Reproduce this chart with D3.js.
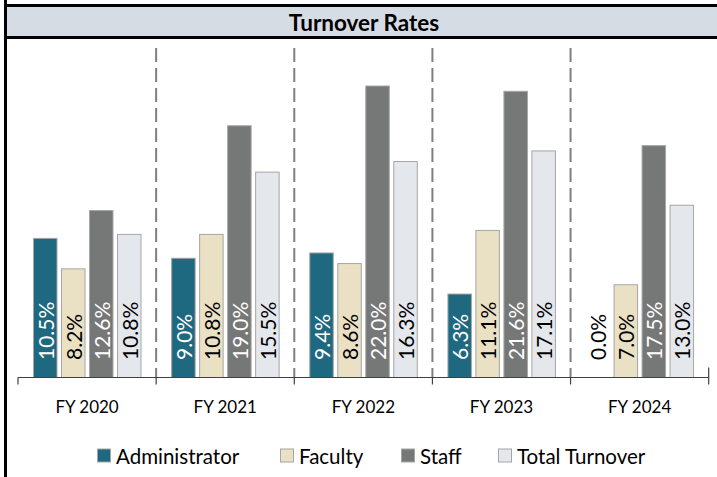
<!DOCTYPE html>
<html>
<head>
<meta charset="utf-8">
<script src="https://cdn.jsdelivr.net/npm/d3@7"></script>
<style>
  body { margin: 0; background: #fff; }
  svg { display: block; font-family: Lato, "Open Sans", sans-serif; }
</style>
</head>
<body>
<div id="chart"></div>
<script>
const years = ["FY 2020", "FY 2021", "FY 2022", "FY 2023", "FY 2024"];
const seriesNames = ["Administrator", "Faculty", "Staff", "Total Turnover"];
const administrator = [10.5, 9.0, 9.4, 6.3, 0.0];
const faculty = [8.2, 10.8, 8.6, 11.1, 7.0];
const staff = [12.6, 19.0, 22.0, 21.6, 17.5];
const totalTurnover = [10.8, 15.5, 16.3, 17.1, 13.0];

const width = 717, height = 477;
const colors = ["#1F6980", "#EAE0C3", "#767878", "#E4E7EC"];
const labelColors = ["#fff", "#000", "#fff", "#000"];
const allSeries = [administrator, faculty, staff, totalTurnover];

const data = years.map((y, i) => ({
    year: y,
    values: seriesNames.map((s, j) => ({ name: s, idx: j, value: allSeries[j][i] }))
}));

const svg = d3.select("#chart").append("svg")
    .attr("width", width)
    .attr("height", height);

// title band
svg.append("rect")
    .attr("x", 5.5).attr("y", 5.5)
    .attr("width", width).attr("height", 32)
    .attr("fill", "#D6DCE4")
    .attr("stroke", "#000")
    .attr("stroke-width", 3);

svg.append("line")
    .attr("x1", 5.5).attr("x2", 5.5)
    .attr("y1", 0).attr("y2", height)
    .attr("stroke", "#000")
    .attr("stroke-width", 3);

svg.append("text")
    .attr("x", 364)
    .attr("y", 22)
    .attr("text-anchor", "middle")
    .attr("dominant-baseline", "central")
    .style("font-size", "22.5px")
    .style("font-weight", "bold")
    .text("Turnover Rates");

let x0 = d3.scaleBand()
    .domain(years)
    .range([18, 708.7]);

let x1 = d3.scaleBand()
    .domain(seriesNames)
    .range([15, 123.5])
    .paddingInner(0.125);

let y = d3.scaleLinear()
    .domain([0, 25])
    .range([377.5, 46.25]);

// dashed separators
svg.selectAll(".sep")
    .data(years.slice(1))
    .enter().append("line")
    .attr("class", "sep")
    .attr("x1", d => x0(d)).attr("x2", d => x0(d))
    .attr("y1", 48).attr("y2", y(0))
    .attr("stroke", "#7f7f7f")
    .attr("stroke-width", 2)
    .attr("stroke-dasharray", "14,6");

const groups = svg.selectAll(".grp")
    .data(data)
    .enter().append("g")
    .attr("class", "grp")
    .attr("transform", d => `translate(${x0(d.year)},0)`);

groups.selectAll("rect")
    .data(d => d.values.filter(v => v.value > 0))
    .enter().append("rect")
    .attr("x", d => x1(d.name) + 0.5)
    .attr("y", d => y(d.value))
    .attr("width", x1.bandwidth() - 1)
    .attr("height", d => y(0) - y(d.value))
    .attr("fill", d => colors[d.idx])
    .attr("stroke", "#a6a6a6")
    .attr("stroke-width", 1);

groups.selectAll(".lbl")
    .data(d => d.values)
    .enter().append("text")
    .attr("class", "lbl")
    .attr("transform", d => `translate(${x1(d.name) + x1.bandwidth() / 2},${y(0) - 17.5}) rotate(-90)`)
    .attr("dominant-baseline", "central")
    .attr("fill", d => d.value > 0 ? labelColors[d.idx] : "#000")
    .style("font-size", "21px")
    .text(d => d.value.toFixed(1) + "%");

// axis
const axisG = svg.append("g");
axisG.append("line")
    .attr("x1", x0.range()[0]).attr("x2", x0.range()[1])
    .attr("y1", y(0)).attr("y2", y(0))
    .attr("stroke", "#404040")
    .attr("stroke-width", 1.2);

const tickPos = years.map(d => x0(d)).concat([x0.range()[1]]);
axisG.selectAll(".tk")
    .data(tickPos)
    .enter().append("line")
    .attr("x1", d => d).attr("x2", d => d)
    .attr("y1", (d, i) => i === tickPos.length - 1 ? y(0) - 10 : y(0))
    .attr("y2", y(0) + 7)
    .attr("stroke", "#404040")
    .attr("stroke-width", 1.2);

axisG.selectAll(".cat")
    .data(years)
    .enter().append("text")
    .attr("x", d => x0(d) + x0.bandwidth() / 2)
    .attr("y", 406)
    .attr("text-anchor", "middle")
    .attr("dominant-baseline", "central")
    .style("font-size", "17px")
    .text(d => d);

// legend
const legendX = [97, 280, 401, 498];
const legend = svg.selectAll(".leg")
    .data(seriesNames)
    .enter().append("g")
    .attr("class", "leg")
    .attr("transform", (d, i) => `translate(${legendX[i]},455.5)`);

legend.append("rect")
    .attr("x", 0.5).attr("y", -6.5)
    .attr("width", 13).attr("height", 13)
    .attr("fill", (d, i) => colors[i])
    .attr("stroke", "#a6a6a6");

legend.append("text")
    .attr("x", 19)
    .attr("y", 0)
    .attr("dominant-baseline", "central")
    .style("font-size", "20.5px")
    .text(d => d);
</script>
</body>
</html>
